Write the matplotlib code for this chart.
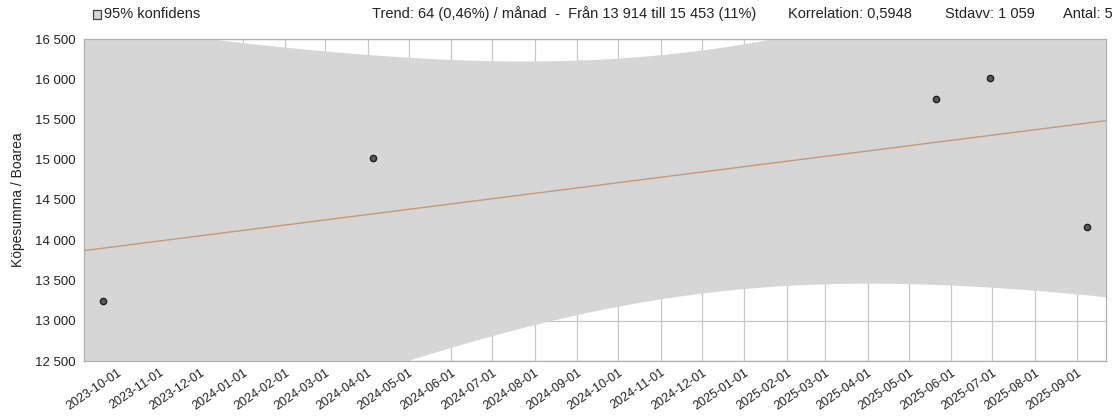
import numpy as np
import matplotlib
matplotlib.use("Agg")
import matplotlib.pyplot as plt
import matplotlib.dates as mdates
from matplotlib.ticker import FuncFormatter, MultipleLocator
from matplotlib.patches import Rectangle

plt.rcParams['font.family'] = ['Liberation Sans', 'DejaVu Sans']

dates = np.array(['2023-09-21', '2024-04-05', '2025-05-21', '2025-06-29', '2025-09-08'],
                 dtype='datetime64[D]')
values = np.array([13245, 15022, 15755, 16016, 14165])

header_left = "95% konfidens"
header_trend = "Trend: 64 (0,46%) / månad  -  Från 13 914 till 15 453 (11%)"
header_corr = "Korrelation: 0,5948"
header_std = "Stdavv: 1 059"
header_n = "Antal: 5"
ylabel = "Köpesumma / Boarea"

# linear regression with 95% confidence band (t, 3 df)
t95 = 3.182
x = mdates.date2num(dates)
n = len(x)
k, m = np.polyfit(x, values, 1)
resid = values - (k * x + m)
s = np.sqrt(np.sum(resid ** 2) / (n - 2))
sxx = np.sum((x - x.mean()) ** 2)

pad = 14
x0 = x.min() - pad
x1 = x.max() + pad
xs = np.linspace(x0, x1, 400)
yfit = k * xs + m
hw = t95 * s * np.sqrt(1.0 / n + (xs - x.mean()) ** 2 / sxx)

fig = plt.figure(figsize=(11.12, 4.16), dpi=100)
ax = fig.add_axes([84 / 1112, 1 - 361 / 416, (1106 - 84) / 1112, (361 - 39) / 416])

ax.fill_between(xs, yfit - hw, yfit + hw, color='#d6d6d6', lw=0, zorder=2)
ax.plot(xs, yfit, color='#c49a78', lw=1.0, zorder=3)
ax.plot(x, values, 'o', ms=4.5, mfc='#5a5a5a', mec='#1e1e1e', mew=1.0, zorder=4)

ax.set_xlim(x0, x1)
ax.set_ylim(12500, 16500)
ax.yaxis.set_major_locator(MultipleLocator(500))
ax.yaxis.set_major_formatter(FuncFormatter(lambda v, p: f"{int(v):,}".replace(",", " ")))
ax.xaxis.set_major_locator(mdates.MonthLocator())
ax.xaxis.set_major_formatter(mdates.DateFormatter('%Y-%m-%d'))
for lab in ax.get_xticklabels():
    lab.set_rotation(34)
    lab.set_ha('right')
    lab.set_va('top')
    lab.set_rotation_mode('anchor')

ax.grid(True, color='#c8c8c8', lw=0.9, zorder=1)
ax.set_axisbelow(True)
ax.tick_params(length=0, labelsize=9.5, colors='#222222', pad=6)
ax.tick_params(axis='x', pad=4, labelsize=9)
for sp in ax.spines.values():
    sp.set_color('#b0b0b0')
    sp.set_linewidth(0.9)
    sp.set_zorder(5)

fig.text(18 / 1112, 1 - 200 / 416, ylabel, rotation=90, ha='center', va='center',
         fontsize=10, color='#222222')

hy = 1 - 14 / 416
fs = 10.5
fig.patches.append(Rectangle((93 / 1112, 1 - 19 / 416), 8 / 1112, 9 / 416,
                             transform=fig.transFigure, facecolor='#d6d6d6',
                             edgecolor='#444444', lw=0.9))
fig.text(104 / 1112, hy, header_left, ha='left', va='center', fontsize=fs, color='#222222')
fig.text(372 / 1112, hy, header_trend, ha='left', va='center', fontsize=fs, color='#222222')
fig.text(788 / 1112, hy, header_corr, ha='left', va='center', fontsize=fs, color='#222222')
fig.text(945 / 1112, hy, header_std, ha='left', va='center', fontsize=fs, color='#222222')
fig.text(1063 / 1112, hy, header_n, ha='left', va='center', fontsize=fs, color='#222222')

fig.savefig("out.png", dpi=100)
